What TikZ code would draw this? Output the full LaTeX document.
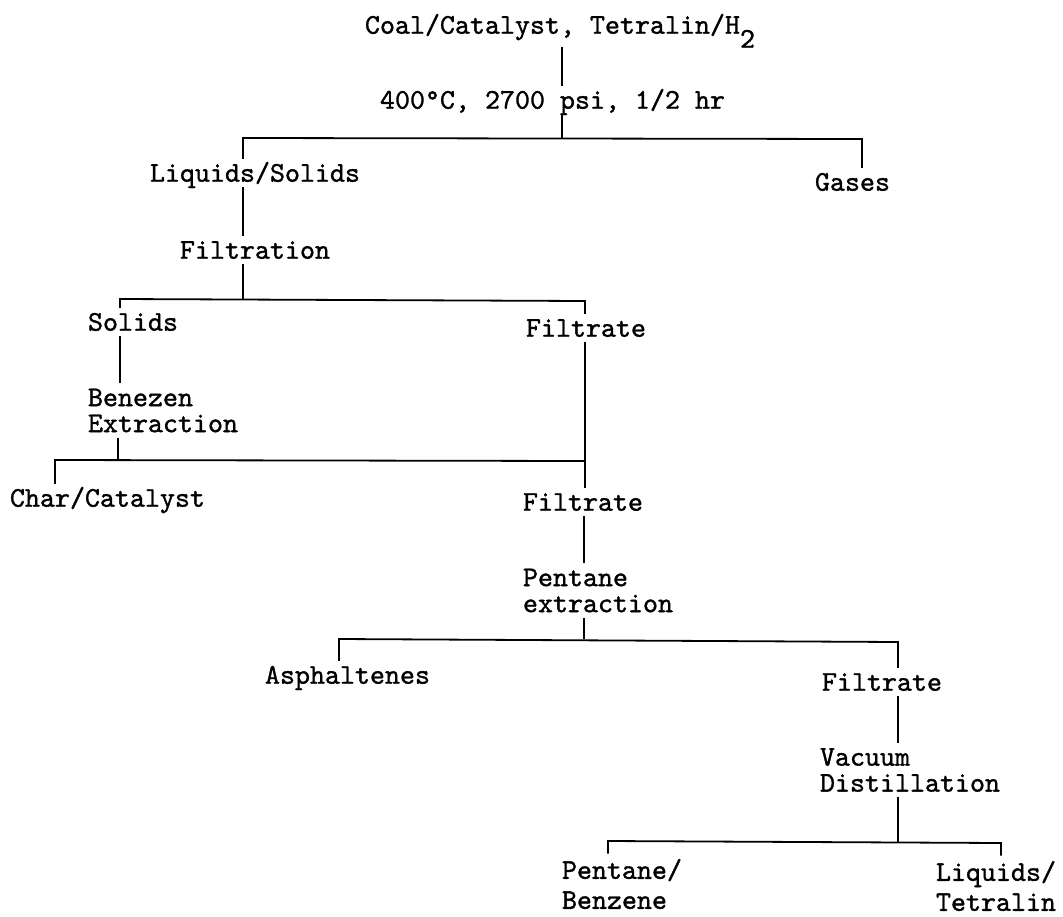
\documentclass[tikz,border=0pt]{standalone}
\usepackage{fontspec}
\newfontfamily\tw{lmmono10-regular.otf}[FakeBold=1.2]
\begin{document}
\begin{tikzpicture}[x=1pt,y=-1pt,
  line width=1.8pt,
  lbl/.style={anchor=west, inner xsep=0pt, inner ysep=5.5pt, outer sep=0pt,
    text height=17.4pt, text depth=0pt, font=\tw\fontsize{28.57}{25}\selectfont},
  two/.style={anchor=west, align=left, inner xsep=0pt, inner ysep=5.5pt, outer sep=0pt,
    font=\tw\fontsize{28.57}{26}\selectfont},
  twowide/.style={two, font=\tw\fontsize{28.57}{30}\selectfont}]
\useasboundingbox (0,0) rectangle (1063,916);

% nodes
\node[lbl, inner ysep=13pt] (coal) at (365,25) {Coal/Catalyst, Tetralin/H\raisebox{-14pt}{2}};
\node[lbl] (cond) at (380,100) {400°C, 2700 psi, 1/2 hr};
\node[lbl] (liqsol) at (150,173) {Liquids/Solids};
\node[lbl] (gases) at (815,182) {Gases};
\node[lbl] (filtration) at (180,250) {Filtration};
\node[lbl] (solids) at (88,322) {Solids};
\node[lbl] (filt1) at (526,328) {Filtrate};
\node[two] (benz) at (88,410.5) {Benezen\\Extraction};
\node[lbl] (char) at (10,498) {Char/Catalyst};
\node[lbl] (filt2) at (523,502) {Filtrate};
\node[two] (pent) at (523,590.5) {Pentane\\extraction};
\node[lbl] (asph) at (265,675) {Asphaltenes};
\node[lbl] (filt3) at (822,682) {Filtrate};
\node[two] (vac) at (820,770) {Vacuum\\Distillation};
\node[twowide] (pb) at (562,884) {Pentane/\\Benzene};
\node[twowide] (lt) at (936,886) {Liquids/\\Tetralin};

% junctions
\coordinate (j1) at (562,138);
\coordinate (b1l) at (243,138);
\coordinate (b1r) at (862,139);
\coordinate (j2) at (243,299);
\coordinate (b2l) at (120,299);
\coordinate (b2r) at (585,301);
\coordinate (j3) at (118,460);
\coordinate (b3l) at (55,460);
\coordinate (b3r) at (585,461);
\coordinate (j4) at (584,639);
\coordinate (b4l) at (339,639);
\coordinate (b4r) at (898,642);
\coordinate (j5) at (898,842);
\coordinate (b5l) at (608,841);
\coordinate (b5r) at (1001,843);

% connectors
\draw (coal.south -| j1) -- (cond.north -| j1);
\draw (cond.south -| j1) -- (j1);
\draw (liqsol.north -| b1l) -- (b1l) -- (b1r) -- (gases.north -| b1r);
\draw (liqsol.south -| b1l) -- (filtration.north -| b1l);
\draw (filtration.south -| j2) -- (j2);
\draw (solids.north -| b2l) -- (b2l) -- (b2r) -- (filt1.north -| b2r);
\draw (solids.south -| b2l) -- (benz.north -| b2l);
\draw (benz.south -| j3) -- (j3);
\draw (char.north -| b3l) -- (b3l) -- (b3r);
\draw (filt1.south -| b2r) -- (filt2.north -| b2r);
\draw (filt2.south -| j4) -- (pent.north -| j4);
\draw (pent.south -| j4) -- (j4);
\draw (asph.north -| b4l) -- (b4l) -- (b4r) -- (filt3.north -| b4r);
\draw (filt3.south -| j5) -- (vac.north -| j5);
\draw (vac.south -| j5) -- (j5);
\draw (pb.north -| b5l) -- (b5l) -- (b5r) -- (lt.north -| b5r);
\end{tikzpicture}
\end{document}
